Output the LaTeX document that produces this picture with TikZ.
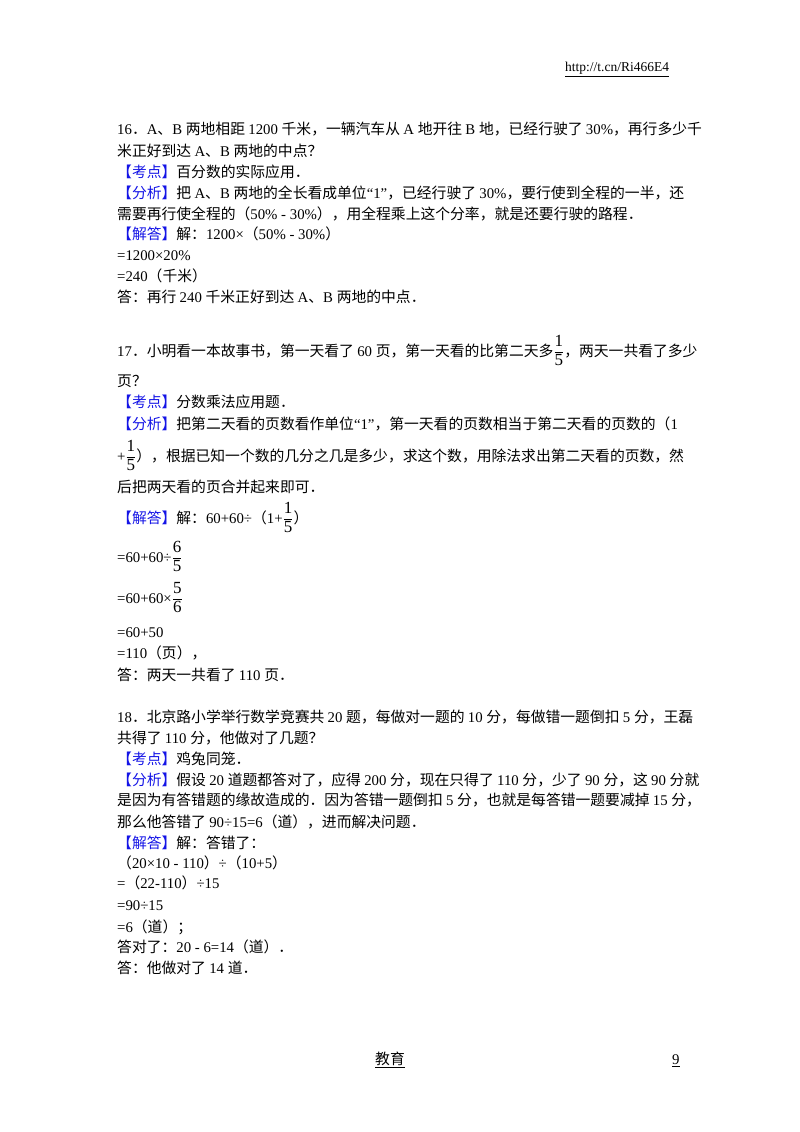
\documentclass[tikz,border=0pt]{standalone}
\usepackage{amsmath}
\usepackage{fontspec}
\setmainfont{Liberation Serif}
\newfontfamily\cjk{Noto Sans CJK SC}
\newXeTeXintercharclass\CJKclass
\newcount\cc
\cc="4E00 \loop\XeTeXcharclass\cc=\CJKclass \advance\cc 1 \ifnum\cc<"A000 \repeat
\cc="3000 \loop\XeTeXcharclass\cc=\CJKclass \advance\cc 1 \ifnum\cc<"3040 \repeat
\cc="FF00 \loop\XeTeXcharclass\cc=\CJKclass \advance\cc 1 \ifnum\cc<"FF60 \repeat
\XeTeXinterchartoks 0 \CJKclass = {\cjk}
\XeTeXinterchartoks 4095 \CJKclass = {\cjk}
\XeTeXinterchartoks \CJKclass 0 = {\rmfamily}
\XeTeXinterchartoks 4095 0 = {\rmfamily}
\XeTeXinterchartokenstate=1
\definecolor{lb}{RGB}{20,20,230}
\newcommand{\kw}[1]{\textcolor{lb}{【#1】}}
\newcommand{\fr}[2]{$\genfrac{}{}{0.5pt}{0}{\text{\fontsize{17}{18}\selectfont\sffamily #1}}{\text{\fontsize{17}{18}\selectfont\sffamily #2}}$}
\begin{document}
\begin{tikzpicture}[x=1pt,y=-1pt,every node/.style={anchor=base west,inner sep=0pt,font=\fontsize{14.8}{17}\selectfont}]
\useasboundingbox (0,0) rectangle (800,1132);
\node (h) at (565,71) {\underline{\fontsize{13.5}{15}\selectfont http://t.cn/Ri466E4}};
\node (a1) at (117,134) {16．A、B 两地相距 1200 千米，一辆汽车从 A 地开往 B 地，已经行驶了 30\%，再行多少千};
\node (a2) at (117,156) {米正好到达 A、B 两地的中点？};
\node (a3) at (117,177) {\kw{考点}百分数的实际应用．};
\node (a4) at (117,198) {\kw{分析}把 A、B 两地的全长看成单位“1”，已经行驶了 30\%，要行使到全程的一半，还};
\node (a5) at (117,219) {需要再行使全程的（50\% - 30\%），用全程乘上这个分率，就是还要行驶的路程．};
\node (a6) at (117,239) {\kw{解答}解：1200×（50\% - 30\%）};
\node (a7) at (117,260) {=1200×20\%};
\node (a8) at (117,281) {=240（千米）};
\node (a9) at (117,302) {答：再行 240 千米正好到达 A、B 两地的中点．};
\node (b1) at (117,356) {17．小明看一本故事书，第一天看了 60 页，第一天看的比第二天多\fr15，两天一共看了多少};
\node (b2) at (117,386) {页？};
\node (b3) at (117,407) {\kw{考点}分数乘法应用题．};
\node (b4) at (117,429) {\kw{分析}把第二天看的页数看作单位“1”，第一天看的页数相当于第二天看的页数的（1};
\node (b5) at (117,461) {+\fr15），根据已知一个数的几分之几是多少，求这个数，用除法求出第二天看的页数，然};
\node (b6) at (117,492) {后把两天看的页合并起来即可．};
\node (b7) at (117,523) {\kw{解答}解：60+60÷（1+\fr15）};
\node (b8) at (117,562) {=60+60÷\fr65};
\node (b9) at (117,603) {=60+60×\fr56};
\node (b10) at (117,637) {=60+50};
\node (b11) at (117,658) {=110（页），};
\node (b12) at (117,680) {答：两天一共看了 110 页．};
\node (c1) at (117,722) {18．北京路小学举行数学竞赛共 20 题，每做对一题的 10 分，每做错一题倒扣 5 分，王磊};
\node (c2) at (117,743) {共得了 110 分，他做对了几题？};
\node (c3) at (117,764) {\kw{考点}鸡兔同笼．};
\node (c4) at (117,785) {\kw{分析}假设 20 道题都答对了，应得 200 分，现在只得了 110 分，少了 90 分，这 90 分就};
\node (c5) at (117,805) {是因为有答错题的缘故造成的．因为答错一题倒扣 5 分，也就是每答错一题要减掉 15 分，};
\node (c6) at (117,827) {那么他答错了 90÷15=6（道），进而解决问题．};
\node (c7) at (117,848) {\kw{解答}解：答错了：};
\node (c8) at (117,868) {（20×10 - 110）÷（10+5）};
\node (c9) at (117,888) {=（22-110）÷15};
\node (c10) at (117,910) {=90÷15};
\node (c11) at (117,932) {=6（道）；};
\node (c12) at (117,952) {答对了：20 - 6=14（道）．};
\node (c13) at (117,973) {答：他做对了 14 道．};
\node (f1) at (375,1064) {\underline{教育}};
\node (f2) at (672,1064) {\underline{9}};
\end{tikzpicture}
\end{document}
